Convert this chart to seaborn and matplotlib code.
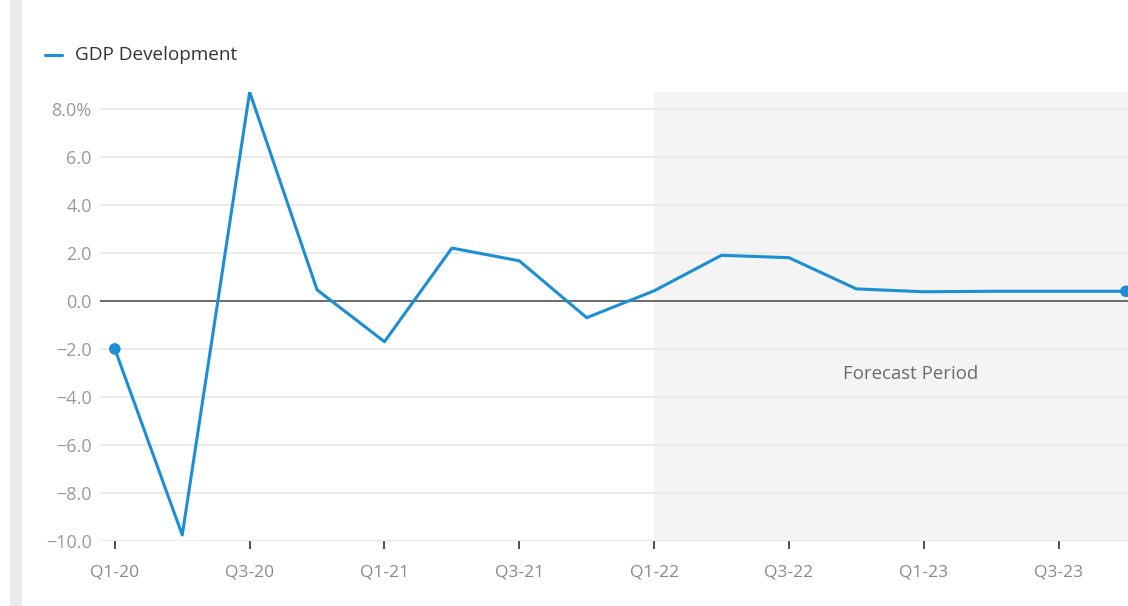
import matplotlib
matplotlib.use("Agg")
import matplotlib.pyplot as plt
import seaborn as sns
import pandas as pd
from matplotlib.patches import Rectangle

quarters = ["Q1-20", "Q2-20", "Q3-20", "Q4-20", "Q1-21", "Q2-21", "Q3-21", "Q4-21",
            "Q1-22", "Q2-22", "Q3-22", "Q4-22", "Q1-23", "Q2-23", "Q3-23", "Q4-23"]
gdp = [-2.0, -9.75, 8.7, 0.46, -1.7, 2.2, 1.67, -0.7,
       0.42, 1.9, 1.8, 0.5, 0.38, 0.4, 0.4, 0.4]
yticks = [-10, -8, -6, -4, -2, 0, 2, 4, 6, 8]
ytick_labels = ["\u221210.0", "\u22128.0", "\u22126.0", "\u22124.0", "\u22122.0", "0.0",
                "2.0", "4.0", "6.0", "8.0%"]
forecast_start = "Q1-22"

df = pd.DataFrame({"idx": range(len(quarters)), "quarter": quarters, "gdp": gdp})

sns.set_theme(style="white")
plt.rcParams["font.family"] = ["Open Sans", "DejaVu Sans"]

W, H = 1128, 606
fig = plt.figure(figsize=(W / 100, H / 100), dpi=100)
fig.patches.append(Rectangle((10 / W, 0), 11 / W, 1, transform=fig.transFigure,
                             color="#ebebeb", zorder=0))
ax = fig.add_axes([100 / W, (H - 541) / H, (W - 100) / W, (541 - 92) / H])
ax.set_facecolor("none")

line_color = "#1a8fd6"
sns.lineplot(data=df, x="idx", y="gdp", ax=ax, color=line_color, linewidth=2.2,
             label="GDP Development", legend=False, zorder=4)
ends = df.iloc[[0, -1]]
ax.scatter(ends["idx"], ends["gdp"], s=70, color=line_color, zorder=5, clip_on=False,
           edgecolor="none")

fs = quarters.index(forecast_start)
ax.axvspan(fs, len(quarters) + 1, color="#f4f4f4", zorder=0, lw=0)
ax.text((fs + len(quarters) - 1) / 2 + 0.3, -3.05, "Forecast Period", ha="center",
        va="center", fontsize=13.4, color="#6b6b6b")

ax.set_xlim(-0.22, 15.03)
ax.set_ylim(-10, 8.7)
ax.set_yticks(yticks)
ax.set_yticklabels(ytick_labels)
ax.set_xticks(range(0, len(quarters), 2))
ax.set_xticklabels(quarters[::2])
for y in yticks:
    ax.axhline(y, color="#e8e8e8", lw=1.2, zorder=1)
ax.axhline(0, color="#555555", lw=1.2, zorder=3)

for s in ax.spines.values():
    s.set_visible(False)
ax.tick_params(axis="y", length=0, pad=6, labelsize=13, labelcolor="#9a9a9a")
ax.tick_params(axis="x", length=6, width=1.2, color="#333333", pad=11, labelsize=12.5,
               labelcolor="#8a8a8a", bottom=True, direction="out")
ax.set_xlabel("")
ax.set_ylabel("")

fig.lines.append(plt.Line2D([45 / W, 62 / W], [1 - 55 / H, 1 - 55 / H],
                            transform=fig.transFigure, color=line_color, lw=2.2))
fig.text(75 / W, 1 - 55 / H, "GDP Development", ha="left", va="center", fontsize=13.6,
         color="#333333")

fig.savefig("out.png", dpi=100)
